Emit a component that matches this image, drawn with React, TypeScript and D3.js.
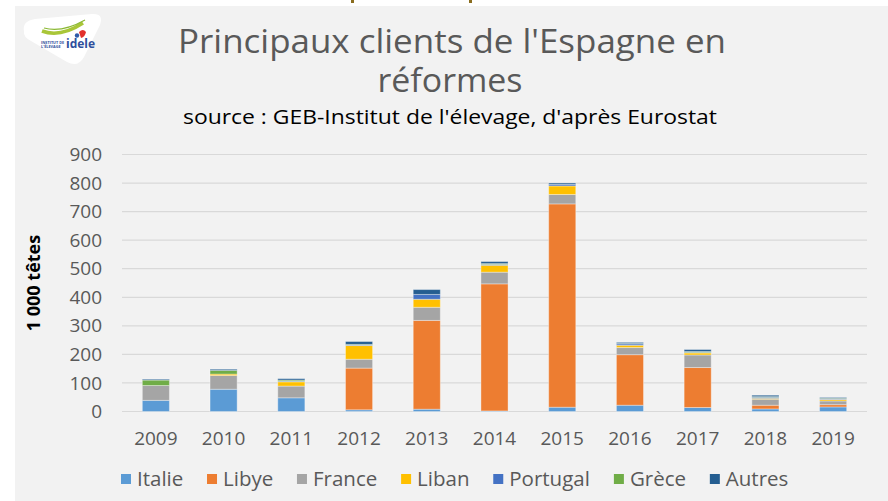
import React, { useMemo } from "react";
import * as d3 from "d3";

const years = ["2009", "2010", "2011", "2012", "2013", "2014", "2015", "2016", "2017", "2018", "2019"];
const seriesNames = ["Italie", "Libye", "France", "Liban", "Portugal", "Grèce", "Autres"];
const italie = [39, 78, 48, 6, 8, 2, 15, 22, 14, 9, 16];
const libye = [0, 0, 0, 146, 311, 445, 712, 177, 140, 13, 8];
const france = [52, 48, 41, 31, 46, 41, 33, 25, 44, 21, 13];
const liban = [0, 5, 15, 48, 28, 24, 30, 8, 7, 3, 5];
const portugal = [0, 0, 2, 2, 17, 3, 5, 5, 2, 4, 2];
const grece = [19, 13, 4, 2, 0, 3, 0, 1, 3, 2, 2];
const autres = [3, 4, 5, 10, 17, 7, 5, 4, 7, 5, 3];
const colors = ["#5B9BD5", "#ED7D31", "#A5A5A5", "#FFC000", "#4472C4", "#70AD47", "#255E91"];
const yTicks = [0, 100, 200, 300, 400, 500, 600, 700, 800, 900];

const W = 888;
const H = 501;
const FONT = "'Open Sans', 'DejaVu Sans', sans-serif";

export default function App() {
  const seriesValues = [italie, libye, france, liban, portugal, grece, autres];
  const table = years.map((y, i) => {
    const row: any = { year: y };
    seriesNames.forEach((s, k) => (row[s] = seriesValues[k][i]));
    return row;
  });
  const stacked = d3.stack().keys(seriesNames)(table);

  const x = d3.scaleBand().domain(years).range([122, 867]).paddingInner(0.6).paddingOuter(0.3);
  const y = d3.scaleLinear().domain([0, 900]).range([411.5, 154.5]);

  const legend = useMemo(() => {
    const canvas = document.createElement("canvas");
    const ctx = canvas.getContext("2d")!;
    ctx.font = `20.5px ${FONT}`;
    const box = 10, gapBT = 6, gapItem = 23;
    const widths = seriesNames.map((s) => ctx.measureText(s).width);
    const total = widths.reduce((a, w) => a + box + gapBT + w, 0) + gapItem * (seriesNames.length - 1);
    const scale = 668 / total;
    let cx = 121;
    return seriesNames.map((s, i) => {
      const item = { name: s, color: colors[i], x: cx };
      cx += (box + gapBT + widths[i] + gapItem) * scale;
      return item;
    });
  }, []);

  return (
    <svg width={W} height={H} style={{ display: "block", position: "absolute", left: 0, top: 0 }}>
      <rect x={0} y={0} width={W} height={H} fill="#ffffff" />
      <rect x={15} y={6} width={W - 15} height={H - 6} fill="#f2f2f2" />
      {/* cut-off slide title fragments */}
      <rect x={351} y={0} width={3} height={3} fill="#8a6d1f" />
      <rect x={469} y={0} width={3} height={3} fill="#8a6d1f" />

      {/* logo */}
      <g>
        <path d="M24 31 Q22 21 35 19 L92 14 Q104 13 100 25 L84 57 Q78 68 67 62 L31 41 Q23 37 24 31 Z" fill="#ffffff" />
        <path d="M42 31 Q60 38 83 23" stroke="#a9c638" strokeWidth={3.5} fill="none" />
        <path d="M44 28 Q62 33 85 20" stroke="#8ab833" strokeWidth={1.2} fill="none" />
        <path d="M79 32 q4 -4 7 0 q-1 5 -5 6 z" fill="#e2312d" />
        <circle cx={77} cy={35.5} r={2.2} fill="#2f5aa8" />
        <text x={41} y={44} fontSize={3.8} fill="#2f4f9c" fontFamily={FONT} fontWeight={700}>INSTITUT DE</text>
        <text x={41} y={48} fontSize={3.8} fill="#2f4f9c" fontFamily={FONT} fontWeight={700}>L'ÉLEVAGE</text>
        <text x={66} y={48} fontSize={12} fill="#2f4f9c" fontFamily={FONT} fontWeight={700}>idele</text>
      </g>

      {/* titles */}
      <text x={452} y={53} textAnchor="middle" fontSize={32} fill="#595959" fontFamily={FONT}
        textLength={548} lengthAdjust="spacingAndGlyphs">
        Principaux clients de l'Espagne en
      </text>
      <text x={450} y={92} textAnchor="middle" fontSize={32} fill="#595959" fontFamily={FONT}
        textLength={145} lengthAdjust="spacingAndGlyphs">
        réformes
      </text>
      <text x={450} y={124} textAnchor="middle" fontSize={20.5} fill="#000000" fontFamily={FONT}
        textLength={534} lengthAdjust="spacingAndGlyphs">
        source : GEB-Institut de l'élevage, d'après Eurostat
      </text>

      {/* grid */}
      {yTicks.map((t) => (
        <g key={t}>
          <line x1={122} x2={867} y1={y(t)} y2={y(t)} stroke="#d9d9d9" strokeWidth={1.2} />
          <text x={102} y={y(t)} dy="0.35em" textAnchor="end" fontSize={19} fill="#595959" fontFamily={FONT}>
            {t}
          </text>
        </g>
      ))}

      {/* bars */}
      {stacked.map((s, k) => (
        <g key={s.key} fill={colors[k]}>
          {s.map((d, i) =>
            d[1] - d[0] > 0 ? (
              <rect
                key={i}
                x={x(years[i])!}
                y={y(d[1])}
                width={x.bandwidth()}
                height={y(d[0]) - y(d[1])}
                stroke="#ffffff"
                strokeOpacity={0.35}
                strokeWidth={1}
              />
            ) : null
          )}
        </g>
      ))}

      {/* x labels */}
      {years.map((yr) => (
        <text key={yr} x={x(yr)! + x.bandwidth() / 2} y={445} textAnchor="middle" fontSize={19} fill="#595959" fontFamily={FONT}>
          {yr}
        </text>
      ))}

      {/* y axis title */}
      <text
        transform={`translate(40, 283) rotate(-90)`}
        textAnchor="middle"
        fontSize={18}
        fontWeight={700}
        fill="#000000"
        fontFamily={FONT}
      >
        1 000 têtes
      </text>

      {/* legend */}
      {legend.map((l) => (
        <g key={l.name}>
          <rect x={l.x} y={474} width={10} height={10} fill={l.color} />
          <text x={l.x + 16} y={479} dy="0.35em" fontSize={20.5} fill="#595959" fontFamily={FONT}>
            {l.name}
          </text>
        </g>
      ))}
    </svg>
  );
}
